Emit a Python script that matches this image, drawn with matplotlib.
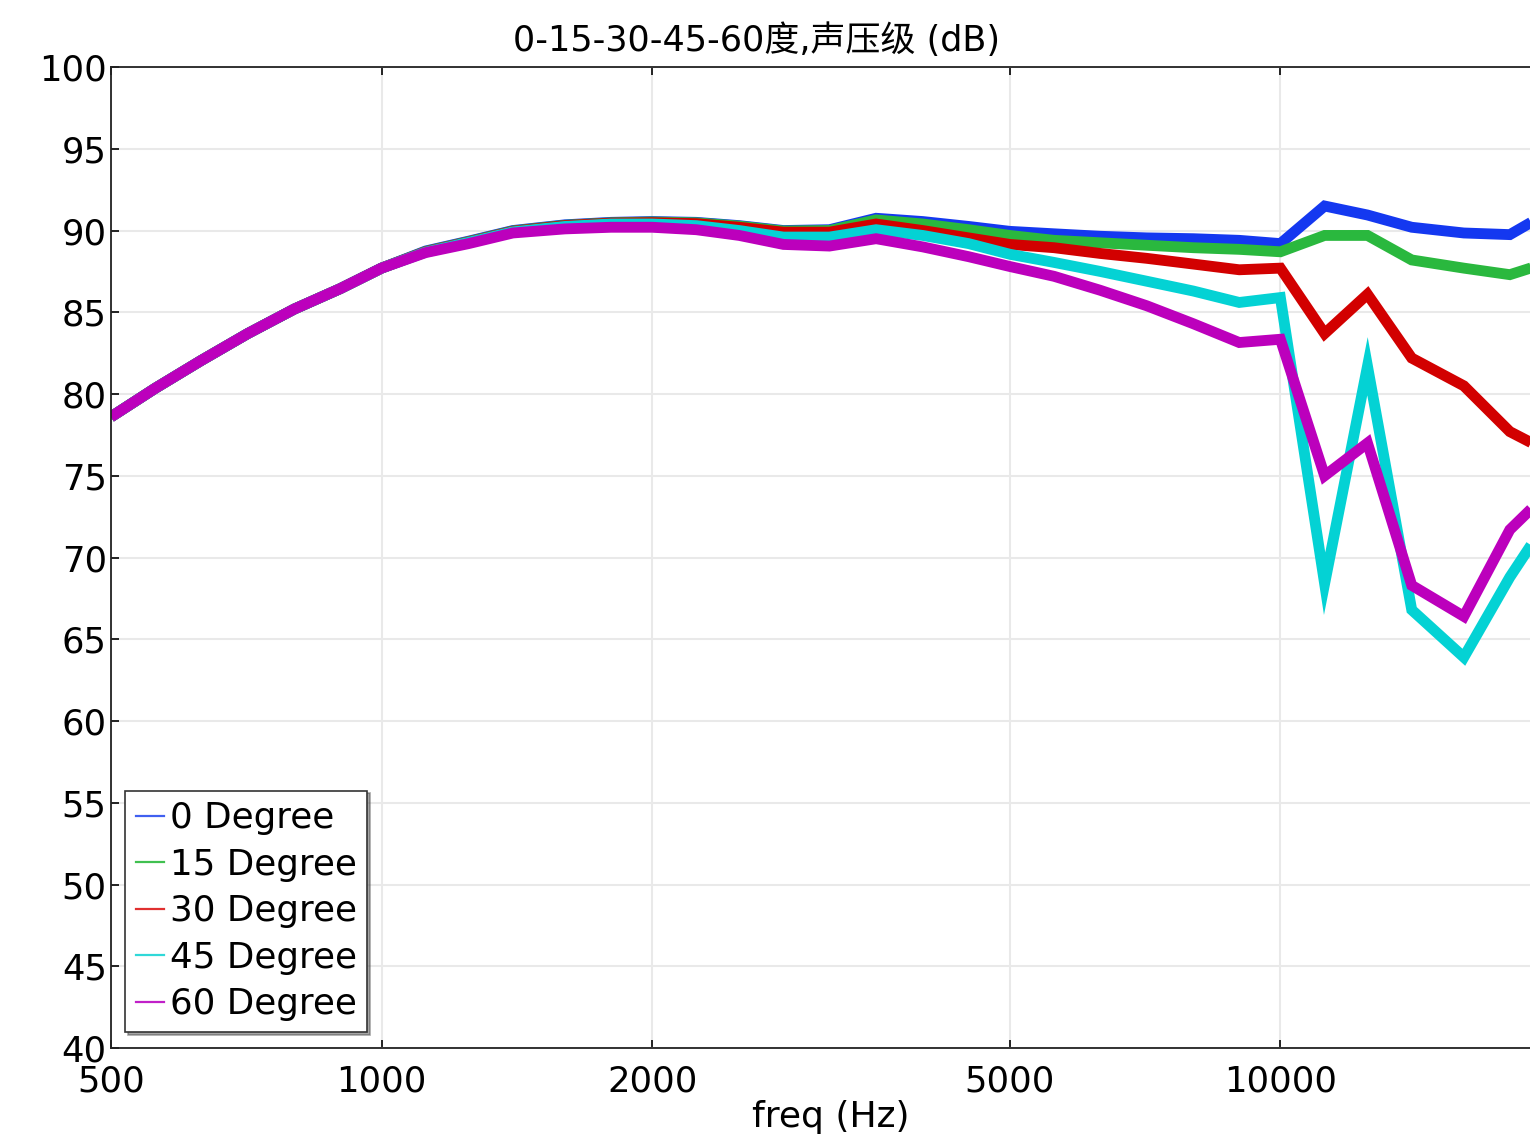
import matplotlib
matplotlib.use('Agg')
import matplotlib.pyplot as plt
from matplotlib.lines import Line2D

plt.rcParams['font.family'] = ['DejaVu Sans', 'Noto Sans CJK SC']

# data
freq = [500, 560, 630, 710, 800, 900, 1000, 1120, 1250, 1400, 1600, 1800, 2000,
        2240, 2500, 2800, 3150, 3550, 4000, 4500, 5000, 5600, 6300, 7100, 8000,
        9000, 10000, 11200, 12500, 14000, 16000, 18000, 20000]

deg0 = [78.6, 80.35, 82.05, 83.7, 85.2, 86.45, 87.7, 88.75, 89.35, 90.0, 90.35, 90.5, 90.55,
        90.5, 90.3, 90.0, 90.05, 90.75, 90.55, 90.25, 89.95, 89.8, 89.65, 89.55, 89.5,
        89.4, 89.2, 91.5, 90.95, 90.2, 89.85, 89.75, 91.2]
deg15 = [78.6, 80.35, 82.05, 83.7, 85.2, 86.45, 87.7, 88.72, 89.32, 89.97, 90.32, 90.47, 90.52,
         90.47, 90.27, 89.97, 90.0, 90.65, 90.4, 90.05, 89.7, 89.4, 89.25, 89.1, 88.95,
         88.85, 88.7, 89.7, 89.7, 88.2, 87.7, 87.3, 88.1]
deg30 = [78.6, 80.35, 82.05, 83.7, 85.2, 86.45, 87.7, 88.7, 89.3, 89.95, 90.3, 90.45, 90.48,
         90.42, 90.2, 89.9, 89.9, 90.4, 90.0, 89.55, 89.15, 88.95, 88.6, 88.3, 87.95,
         87.6, 87.7, 83.7, 86.1, 82.2, 80.5, 77.7, 76.4]
deg45 = [78.6, 80.35, 82.05, 83.7, 85.2, 86.45, 87.7, 88.68, 89.28, 89.92, 90.25, 90.4, 90.4,
         90.3, 90.0, 89.6, 89.6, 90.05, 89.7, 89.2, 88.55, 88.05, 87.5, 86.9, 86.3,
         85.6, 85.9, 68.4, 81.7, 66.8, 63.9, 68.8, 72.6]
deg60 = [78.6, 80.35, 82.05, 83.7, 85.2, 86.45, 87.7, 88.65, 89.2, 89.85, 90.1, 90.2, 90.2,
         90.05, 89.7, 89.15, 89.05, 89.5, 89.0, 88.4, 87.8, 87.2, 86.35, 85.4, 84.3,
         83.15, 83.35, 75.0, 77.0, 68.3, 66.4, 71.7, 74.15]

labels = ['0 Degree', '15 Degree', '30 Degree', '45 Degree', '60 Degree']
colors = ['#1438f0', '#2ab83e', '#d20000', '#04d2d4', '#bc00bc']
legend_colors = ['#4060f0', '#40c050', '#e03030', '#30d8d8', '#c020c8']

fig = plt.figure(figsize=(15.3, 11.42), dpi=100)
ax = fig.add_axes([0.0725, 0.0823, 0.9412, 0.859])

for y, c in zip([deg0, deg15, deg30, deg45, deg60], colors):
    ax.plot(freq, y, color=c, lw=7.8, solid_joinstyle='miter', solid_capstyle='butt')

ax.set_xscale('log')
ax.set_xlim(500, 20000)
ax.set_ylim(40, 100)
ax.set_xticks([500, 1000, 2000, 5000, 10000])
ax.set_xticklabels(['500', '1000', '2000', '5000', '10000'])
ax.minorticks_off()
ax.set_yticks(range(40, 101, 5))
ax.grid(True, color='#e9e9e9', lw=1.5)
ax.set_axisbelow(True)
ax.tick_params(direction='in', length=6, width=1.2, labelsize=25.5, top=True, right=False)
ax.tick_params(axis='y', pad=3)
ax.tick_params(axis='x', pad=12)
for s in ax.spines.values():
    s.set_linewidth(1.3)
    s.set_color('#222222')

ax.set_xlabel('freq (Hz)', fontsize=26, labelpad=1)
fig.text(757 / 1530, 1 - 41 / 1142, '0-15-30-45-60度,声压级 (dB)', fontsize=25.2,
         ha='center', va='center')

handles = [Line2D([0], [0], color=c, lw=1.6) for c in legend_colors]
leg = ax.legend(handles, labels, loc='lower left', bbox_to_anchor=(0.0097, 0.0163),
                borderaxespad=0, fontsize=25.7, fancybox=False, shadow=True, framealpha=1,
                handlelength=0.8, handletextpad=0.15, labelspacing=0.35, borderpad=0.3)
leg.get_frame().set_edgecolor('#333333')
leg.get_frame().set_linewidth(1.2)

fig.savefig('out.png', dpi=100)
